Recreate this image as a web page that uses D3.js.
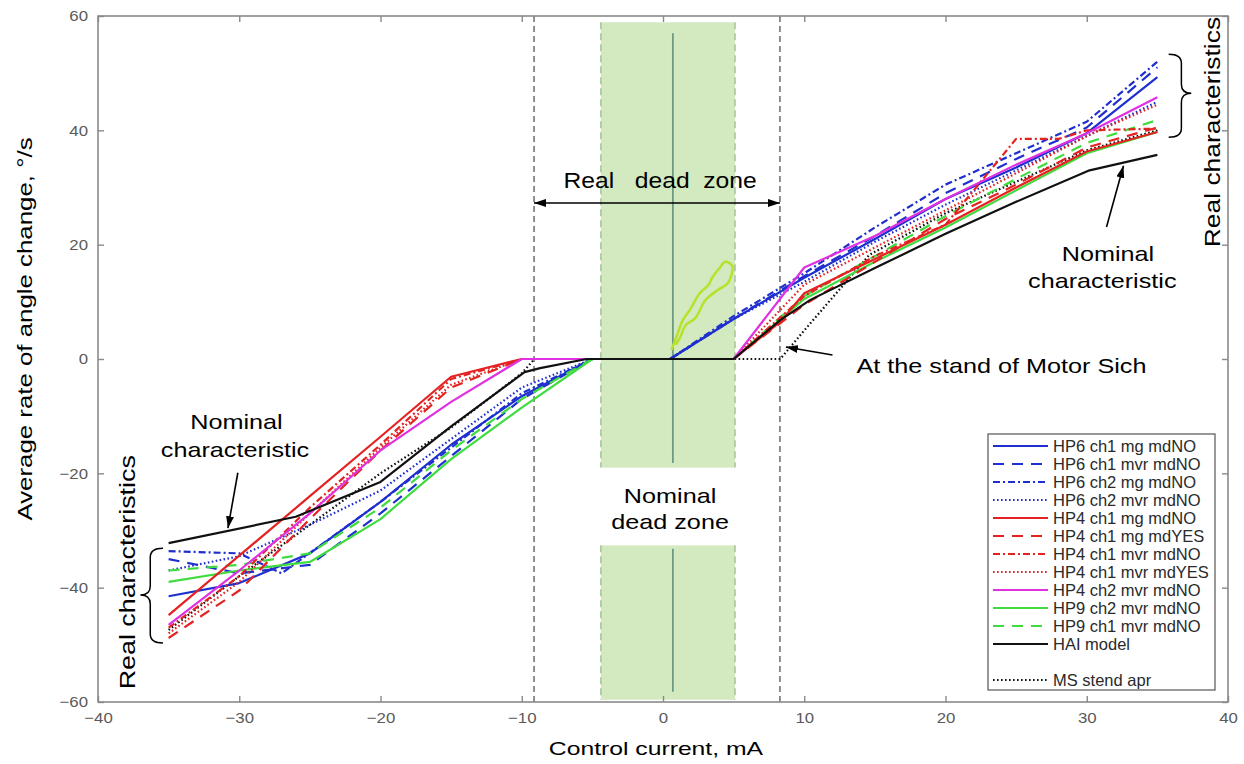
<!DOCTYPE html>
<html><head><meta charset="utf-8">
<script src="https://cdn.jsdelivr.net/npm/d3@7"></script>
<style>
body{margin:0;background:#fff}
svg{display:block}
text{font-family:"Liberation Sans",Arial,sans-serif}
</style>
</head><body>
<svg id="c" width="1244" height="764"></svg>
<script>
// ---------- data ----------
const xTicks=[-40,-30,-20,-10,0,10,20,30,40];
const yTicks=[-60,-40,-20,0,20,40,60];

const hp6c1mgX =[-35,-30,-25,-20,-15,-10,-5,0.5,5,10,15,20,25,30,35];
const hp6c1mgY =[-41.5,-39.2,-34,-25,-15,-6.5,0,0,7,14.2,21,28,33.5,39.5,49.3];
const hp6c1mvrX=[-35,-30,-25,-20,-15,-10,-5,0.5,5,10,15,20,25,30,35];
const hp6c1mvrY=[-35,-37.5,-36,-27,-17,-7,0,0,7,14.5,21.5,29,35,40.5,51];
const hp6c2mgX =[-35,-30,-27,-20,-15,-10,-5,0.5,5,10,15,20,25,30,35];
const hp6c2mgY =[-33.6,-34,-37.5,-25,-15.5,-6,0,0,7.5,15,23,30.5,36,41.5,52];
const hp6c2mvrX=[-35,-30,-25,-20,-15,-10,-5,0.5,5,10,15,20,25,30,35];
const hp6c2mvrY=[-37,-34.5,-29,-23,-14,-5,0,0,7,13.5,20.5,27,33,39,45];
const hp4c1mgX =[-35,-30,-25,-20,-15,-10,5,8.3,10,15,20,25,30,35];
const hp4c1mgY =[-44.8,-34.4,-24,-13.6,-3.1,0,0,6.5,11.5,17.5,23.5,30,36.3,39.7];
const hp4c1mgYesX=[-35,-30,-25,-20,-15,-10,5,10,15,20,25,30,35];
const hp4c1mgYesY=[-48.8,-40.5,-28,-16,-5,0,0,9.5,17,24.5,30.5,37,40.5];
const hp4c1mvrX=[-35,-30,-25,-20,-15,-10,5,10,15,20,25,28,30,35];
const hp4c1mvrY=[-47,-38,-26,-15,-3.5,0,0,11,18,23.5,38.5,38.5,40,40.3];
const hp4c1mvrYesX=[-35,-30,-25,-20,-15,-10,5,10,15,20,25,30,35];
const hp4c1mvrYesY=[-48,-39,-27,-15.5,-4.5,0,0,13,19.5,26,32.5,39,44.5];
const hp4c2mvrX=[-35,-30,-25,-20,-15,-10,5,10,15,20,25,30,35];
const hp4c2mvrY=[-46.5,-37,-27,-16,-7.5,0,0,16,21.5,28,34,39.5,45.8];
const hp9c2mvrX=[-35,-30,-25,-20,-15,-10,-5,5,10,15,20,25,30,35];
const hp9c2mvrY=[-39,-37,-35.5,-28,-17.5,-8.5,0,0,10.5,17,23,29.5,36,39.7];
const hp9c1mvrX=[-35,-30,-25,-20,-15,-10,-5,5,10,15,20,25,30,35];
const hp9c1mvrY=[-37,-36,-34,-26,-16,-7,0,0,11,18,25,31.5,37.8,41.8];
const haiX=[-35,-26,-20,-15,-9.8,-8.7,-5.4,5,8.3,10.4,15,20,25,30.2,35];
const haiY=[-32.2,-27.6,-21.5,-11.8,-2.3,-1.6,0,0,6.8,10.3,15.9,21.9,27.5,33,35.7];
const msX=[-35,-30,-25,-20,-15,-10,-9.1,8.3,10,14.6,20,25,30,35];
const msY=[-47.4,-38,-29,-20,-12,-2.5,0,0,5,18.2,25.5,31,36.5,40];
const scribbleX=[0.6,1.0,1.4,1.9,2.6,3.2,3.5,4.0,4.4,4.9,4.6,3.9,3.0,2.3,1.6,1.2,0.9];
const scribbleY=[1.6,4.2,6.8,8.6,11.5,12.9,14.3,15.9,17.0,16.3,13.3,12.1,10.3,7.2,5.9,3.7,2.5];

const seriesNames=["HP6 ch1 mg mdNO","HP6 ch1 mvr mdNO","HP6 ch2 mg mdNO","HP6 ch2 mvr mdNO",
 "HP4 ch1 mg mdNO","HP4 ch1 mg mdYES","HP4 ch1 mvr mdNO","HP4 ch1 mvr mdYES",
 "HP4 ch2 mvr mdNO","HP9 ch2 mvr mdNO","HP9 ch1 mvr mdNO","HAI model","MS stend apr"];
const seriesX=[hp6c1mgX,hp6c1mvrX,hp6c2mgX,hp6c2mvrX,hp4c1mgX,hp4c1mgYesX,hp4c1mvrX,hp4c1mvrYesX,hp4c2mvrX,hp9c2mvrX,hp9c1mvrX,haiX,msX];
const seriesY=[hp6c1mgY,hp6c1mvrY,hp6c2mgY,hp6c2mvrY,hp4c1mgY,hp4c1mgYesY,hp4c1mvrY,hp4c1mvrYesY,hp4c2mvrY,hp9c2mvrY,hp9c1mvrY,haiY,msY];

// ---------- styles ----------
const BLUE="#1f2fcf", RED="#e52222", MAG="#e030e0", GRN="#3fdc3f", BLK="#111";
const seriesColor=[BLUE,BLUE,BLUE,BLUE,RED,RED,RED,RED,MAG,GRN,GRN,BLK,BLK];
const DASH="11,8", DASHDOT="7,3,2,3", DOT="1.6,2.4";
const seriesDash=[null,DASH,DASHDOT,DOT,null,DASH,DASHDOT,DOT,null,null,DASH,null,DOT];
const drawOrder=[12,0,1,2,3,9,10,4,5,6,7,8,11];

const svg=d3.select("#c");
const x=d3.scaleLinear().domain([-40,40]).range([98,1228]);
const y=d3.scaleLinear().domain([-60,60]).range([702,16]);

function stretch(sel,k){
  sel.each(function(){const n=this.getComputedTextLength();
    d3.select(this).attr("textLength",n*k).attr("lengthAdjust","spacingAndGlyphs");});
  return sel;
}

// arrow marker
const defs=svg.append("defs");
defs.append("marker").attr("id","ah").attr("viewBox","0 0 12 8").attr("refX",12).attr("refY",4)
 .attr("markerWidth",12).attr("markerHeight",8).attr("markerUnits","userSpaceOnUse").attr("orient","auto-start-reverse")
 .append("path").attr("d","M0,0 L12,4 L0,8 Z").attr("fill","#000");

// green nominal dead zone
const zoneX0=-4.4, zoneX1=5.1, zoneTop=58.9, zoneBot=-59.6, gapTop=-19.0, gapBot=-32.6;
[[zoneTop,gapTop],[gapBot,zoneBot]].forEach(([a,b])=>{
  svg.append("rect").attr("x",x(zoneX0)).attr("y",y(a)).attr("width",x(zoneX1)-x(zoneX0)).attr("height",y(b)-y(a))
    .attr("fill","#d3e9bf");
  [zoneX0,zoneX1].forEach(v=>svg.append("line").attr("x1",x(v)).attr("x2",x(v)).attr("y1",y(a)).attr("y2",y(b))
    .attr("stroke","#93b98a").attr("stroke-width",1.2).attr("stroke-dasharray","7,4"));
});
const cLineX=0.7;
[[57,-18.2],[-33.2,-58.2]].forEach(([a,b])=>svg.append("line").attr("x1",x(cLineX)).attr("x2",x(cLineX))
  .attr("y1",y(a)).attr("y2",y(b)).attr("stroke","#6f9a82").attr("stroke-width",1.8));

// real dead zone dashed lines
const realDZ=[-9.13,8.28];
realDZ.forEach(v=>svg.append("line").attr("x1",x(v)).attr("x2",x(v)).attr("y1",y(60)).attr("y2",y(-60))
  .attr("stroke","#222").attr("stroke-width",1).attr("stroke-dasharray","6,4"));

// axes box
const g=svg.append("g");
g.append("rect").attr("x",x(-40)).attr("y",y(60)).attr("width",x(40)-x(-40)).attr("height",y(-60)-y(60))
  .attr("fill","none").attr("stroke","#8a8a8a").attr("stroke-width",1.6);
const axB=g.append("g").attr("transform",`translate(0,${y(-60)})`).call(d3.axisBottom(x).tickValues(xTicks).tickSizeInner(-6).tickSizeOuter(0).tickPadding(10));
const axL=g.append("g").attr("transform",`translate(${x(-40)},0)`).call(d3.axisLeft(y).tickValues(yTicks).tickSizeInner(-6).tickSizeOuter(0).tickPadding(10));
const axT=g.append("g").attr("transform",`translate(0,${y(60)})`).call(d3.axisTop(x).tickValues(xTicks).tickSizeInner(-6).tickSizeOuter(0).tickFormat(""));
const axR=g.append("g").attr("transform",`translate(${x(40)},0)`).call(d3.axisRight(y).tickValues(yTicks).tickSizeInner(-6).tickSizeOuter(0).tickFormat(""));
[axB,axL,axT,axR].forEach(a=>{a.select(".domain").remove();a.selectAll("line").attr("stroke","#8a8a8a").attr("stroke-width",1.4);
  a.selectAll("text").attr("fill","#5a5a5a").style("font-size","15px").style("font-family","'Liberation Sans',Arial,sans-serif");});
stretch(axB.selectAll("text"),1.12);
stretch(axL.selectAll("text"),1.12);

// series
const line=d3.line().x(d=>x(d[0])).y(d=>y(d[1]));
drawOrder.forEach(i=>{
  const pts=seriesX[i].map((v,k)=>[v,seriesY[i][k]]);
  svg.append("path").attr("d",line(pts)).attr("fill","none").attr("stroke",seriesColor[i])
    .attr("stroke-width",2.2).attr("stroke-dasharray",seriesDash[i]).attr("stroke-linejoin","round");
});
// yellow-green scribble
svg.append("path").attr("d",d3.line().x(d=>x(d[0])).y(d=>y(d[1])).curve(d3.curveCatmullRom)(scribbleX.map((v,k)=>[v,scribbleY[k]])))
  .attr("fill","none").attr("stroke","#b7e22c").attr("stroke-width",2.5);

// axis titles
stretch(svg.append("text").attr("x",x(-0.5)).attr("y",748).attr("text-anchor","middle").attr("dominant-baseline","central")
  .style("font-size","19px").attr("fill","#000").text("Control current, mA"),1.3);
stretch(svg.append("text").attr("transform",`translate(24,${329}) rotate(-90)`).attr("text-anchor","middle").attr("dominant-baseline","central")
  .style("font-size","21px").attr("fill","#000").text("Average rate of angle change, °/s"),1.23);

// annotations
function ann(tx,ty,str,size,anchor,rot,k){
  const t=svg.append("text").attr("text-anchor",anchor||"middle").attr("dominant-baseline","central")
   .style("font-size",size+"px").attr("fill","#000").text(str);
  if(rot) t.attr("transform",`translate(${x(tx)},${y(ty)}) rotate(${rot})`);
  else t.attr("x",x(tx)).attr("y",y(ty));
  stretch(t,k||1.2);
  return t;
}
function arrow(x1,y1,x2,y2,both){
  const l=svg.append("line").attr("x1",x(x1)).attr("y1",y(y1)).attr("x2",x(x2)).attr("y2",y(y2))
   .attr("stroke","#000").attr("stroke-width",1.6).attr("marker-end","url(#ah)");
  if(both) l.attr("marker-start","url(#ah)");
}
arrow(realDZ[0],27.3,realDZ[1],27.3,true);
svg.append("text").attr("x",x(-0.2)).attr("y",y(31.3)).attr("text-anchor","middle").attr("dominant-baseline","central")
  .style("font-size","22px").style("white-space","pre").attr("fill","#000").text("Real   dead  zone")
  .call(s=>stretch(s,1.12));
ann(0.5,-23.8,"Nominal",21);
ann(0.5,-28.5,"dead zone",21);
ann(13.7,-1.2,"At the stand of Motor Sich",21,"start");
arrow(12.0,0.7,8.7,2.1);
ann(31.5,18.5,"Nominal",21);
ann(31.1,13.8,"characteristic",21);
arrow(31.4,23.1,32.6,33.8);
ann(-30.2,-11,"Nominal",21);
ann(-30.3,-15.9,"characteristic",21);
arrow(-30.1,-19.9,-30.8,-29.6);
ann(38.9,39.7,"Real characteristics",22,"middle",-90,1.2);
ann(-37.9,-37.3,"Real characteristics",22,"middle",-90,1.22);

function brace(xEnd,xSpine,xTip,yTop,yMid,yBot){
  const a=x(xEnd),s=x(xSpine),t=x(xTip),T=y(yTop),M=y(yMid),B=y(yBot),r=9;
  const p=`M${a},${T} Q${s},${T} ${s},${T+r} L${s},${M-r} Q${s},${M} ${t},${M} Q${s},${M} ${s},${M+r} L${s},${B-r} Q${s},${B} ${a},${B}`;
  svg.append("path").attr("d",p).attr("fill","none").attr("stroke","#000").attr("stroke-width",1.5);
}
brace(-35.4,-36.3,-37.0,-33.1,-41.3,-49.7);
brace(35.8,36.7,37.4,53.3,46.5,38.8);

// legend
const lg=svg.append("g");
const legX0=988, legY0=434, legW=227, legH=256, legStep=18, legFirst=446;
lg.append("rect").attr("x",legX0).attr("y",legY0).attr("width",legW).attr("height",legH).attr("fill","#fff").attr("stroke","#555").attr("stroke-width",1.2);
seriesNames.forEach((n,i)=>{
  const row=i<12?i:i+1;
  const yy=legFirst+row*legStep;
  lg.append("line").attr("x1",993).attr("x2",1048).attr("y1",yy).attr("y2",yy).attr("stroke",seriesColor[i])
    .attr("stroke-width",2.2).attr("stroke-dasharray",seriesDash[i]);
  lg.append("text").attr("x",1053).attr("y",yy).attr("dominant-baseline","central").style("font-size","16.5px").attr("fill","#2a2a2a").text(n);
});
</script>
</body></html>
